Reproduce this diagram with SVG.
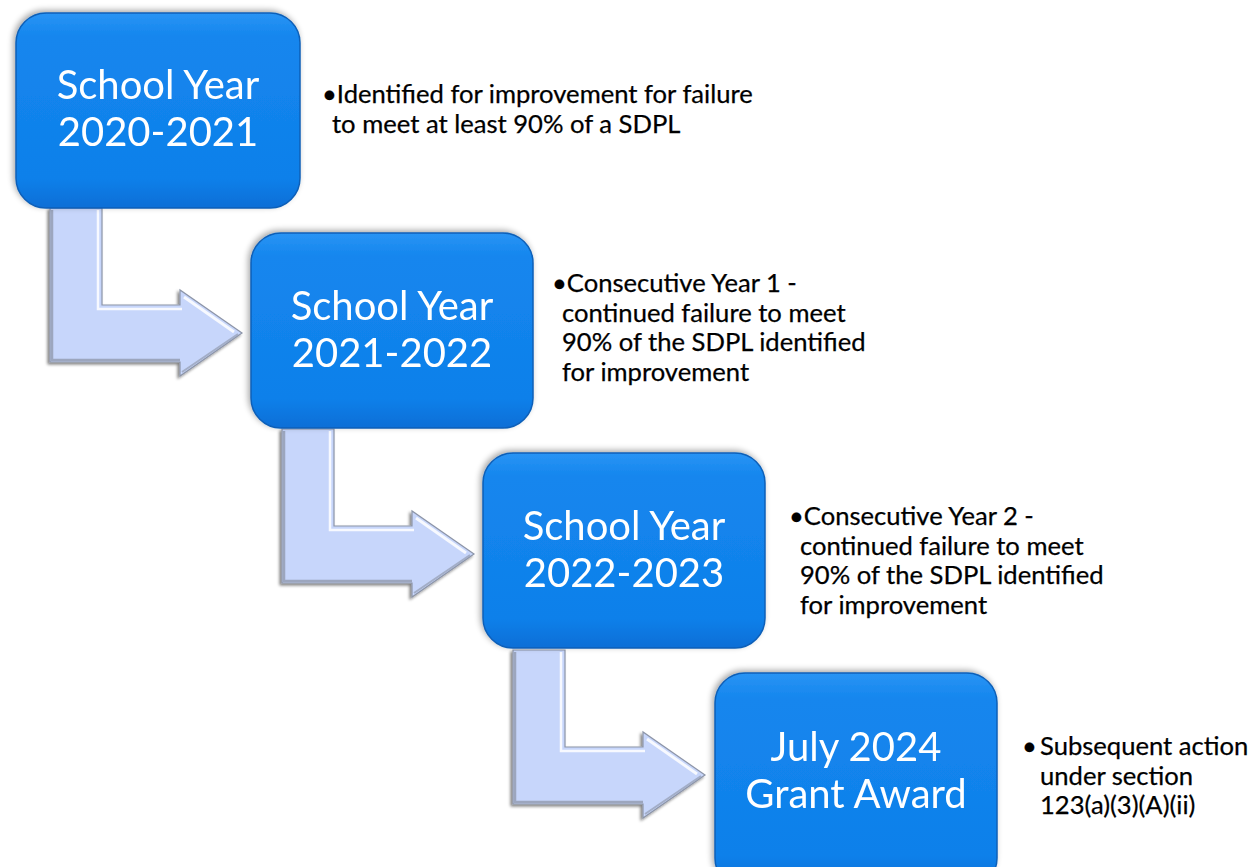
<svg xmlns="http://www.w3.org/2000/svg" width="1255" height="867" viewBox="0 0 1255 867">
<defs>
<linearGradient id="boxg" x1="0" y1="0" x2="0" y2="1">
<stop offset="0" stop-color="#2a94f4"/>
<stop offset="0.12" stop-color="#1486ee"/>
<stop offset="0.85" stop-color="#0f80ea"/>
<stop offset="1" stop-color="#0a6ed6"/>
</linearGradient>
<filter id="sh" x="-10%" y="-10%" width="120%" height="120%">
<feGaussianBlur in="SourceAlpha" stdDeviation="3"/>
<feOffset dx="-2" dy="-2" result="b"/>
<feComponentTransfer><feFuncA type="linear" slope="0.35"/></feComponentTransfer>
<feMerge><feMergeNode/><feMergeNode in="SourceGraphic"/></feMerge>
</filter>
<filter id="ash" x="-10%" y="-10%" width="120%" height="120%">
<feGaussianBlur in="SourceAlpha" stdDeviation="1.5"/>
<feOffset dx="-2" dy="2"/>
<feComponentTransfer><feFuncA type="linear" slope="0.5"/></feComponentTransfer>
<feMerge><feMergeNode/><feMergeNode in="SourceGraphic"/></feMerge>
</filter>
<g id="arrow">
<path d="M50,208 L102,208 L102,305 L180,305 L180,290 L242,333 L180,376 L180,362 L50,362 Z" fill="#c7d6fb" stroke="#8d95a8" stroke-width="1.2" filter="url(#ash)"/>
<polyline points="98,210 98,309 182,309" fill="none" stroke="#ffffff" stroke-width="2.5" stroke-opacity="0.85"/>
<polyline points="184,297 234,332" fill="none" stroke="#ffffff" stroke-width="3" stroke-opacity="0.85"/>
<polyline points="52,210 52,360 180,360" fill="none" stroke="#8e96aa" stroke-width="2.5" stroke-opacity="0.75"/>
<polyline points="182,372 238,334" fill="none" stroke="#8a92a5" stroke-width="2" stroke-opacity="0.6"/>
</g>
</defs>
<style>
.box{fill:url(#boxg);stroke:#0b5fb8;stroke-width:1.5}
.title{font-family:Lato,"Liberation Sans",sans-serif;font-size:40px;fill:#ffffff;text-anchor:middle}
.side{font-family:Lato,"Liberation Sans",sans-serif;font-size:25.6px;fill:#000000;stroke:#000000;stroke-width:0.25}
</style>
<g id="connectors">
<use href="#arrow"/>
<use href="#arrow" transform="translate(232,221)"/>
<use href="#arrow" transform="translate(463,442)"/>
</g>
<g id="node1" filter="url(#sh)">
<rect class="box" x="16" y="13" width="284" height="195" rx="30"/>
<text class="title" x="158" y="99">School Year</text>
<text class="title" x="158" y="146">2020-2021</text>
</g>
<g id="node2" filter="url(#sh)">
<rect class="box" x="251" y="233" width="282" height="195" rx="30"/>
<text class="title" x="392" y="320">School Year</text>
<text class="title" x="392" y="367">2021-2022</text>
</g>
<g id="node3" filter="url(#sh)">
<rect class="box" x="483" y="453" width="282" height="195" rx="30"/>
<text class="title" x="624" y="540">School Year</text>
<text class="title" x="624" y="587">2022-2023</text>
</g>
<g id="node4" filter="url(#sh)">
<rect class="box" x="715" y="673" width="282" height="215" rx="30"/>
<text class="title" x="856" y="761">July 2024</text>
<text class="title" x="856" y="808">Grant Award</text>
</g>
<g id="text1">
<text class="side" x="322" y="103">•Identified for improvement for failure</text>
<text class="side" x="332" y="133">to meet at least 90% of a SDPL</text>
</g>
<g id="text2">
<text class="side" x="552" y="292">•Consecutive Year 1 -</text>
<text class="side" x="562" y="322">continued failure to meet</text>
<text class="side" x="562" y="351">90% of the SDPL identified</text>
<text class="side" x="562" y="381">for improvement</text>
</g>
<g id="text3">
<text class="side" x="789" y="525">•Consecutive Year 2 -</text>
<text class="side" x="800" y="555">continued failure to meet</text>
<text class="side" x="800" y="584">90% of the SDPL identified</text>
<text class="side" x="800" y="614">for improvement</text>
</g>
<g id="text4">
<text class="side" x="1022" y="755">•</text>
<text class="side" x="1040" y="755">Subsequent action</text>
<text class="side" x="1040" y="785">under section</text>
<text class="side" x="1040" y="814">123(a)(3)(A)(ii)</text>
</g>
</svg>
